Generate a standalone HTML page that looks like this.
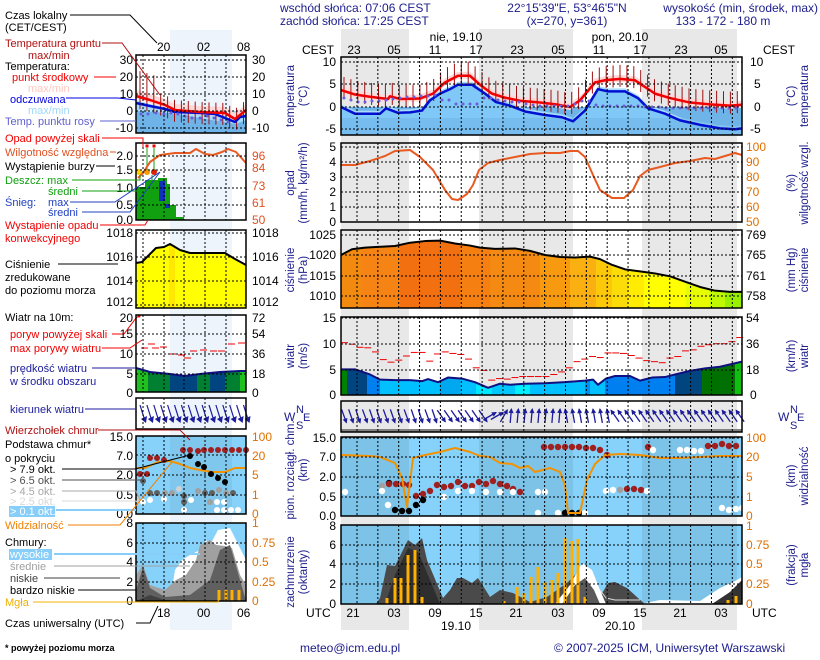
<!DOCTYPE html>
<html><head><meta charset="utf-8">
<style>
html,body{margin:0;padding:0;background:#fff;}
svg{display:block;font-family:"Liberation Sans",sans-serif;}
text{font-size:12px;}
.lg text{font-size:11px;}
.rl text{font-size:11.5px;}
.n{fill:#1c1c8c;}
.k{fill:#000;}
.o{fill:#e07000;}
</style></head>
<body>
<svg id="s" width="820" height="660" viewBox="0 0 820 660" xmlns="http://www.w3.org/2000/svg">
<rect width="820" height="660" fill="#fff"/>
<rect x="341" y="29" width="68" height="601" fill="#e8e8e8"/>
<rect x="479" y="29" width="94" height="601" fill="#e8e8e8"/>
<rect x="642" y="29" width="95" height="601" fill="#e8e8e8"/>
<rect x="170" y="30" width="62" height="600" fill="#eef4fc"/>
<g id="g"></g>

<text x="280" y="12" class="n">wschód słońca: 07:06 CEST</text>
<text x="280" y="25" class="n">zachód słońca: 17:25 CEST</text>
<text x="567" y="12" class="n" text-anchor="middle">22°15'39"E, 53°46'5"N</text>
<text x="567" y="25" class="n" text-anchor="middle">(x=270,  y=361)</text>
<text x="818" y="12" class="n" text-anchor="end">wysokość (min, środek, max)</text>
<text x="723" y="25" class="n" text-anchor="middle">133 - 172 - 180 m</text>

<text x="456" y="41" class="k" text-anchor="middle">nie, 19.10</text>
<text x="620" y="41" class="k" text-anchor="middle">pon, 20.10</text>
<text x="302" y="54" class="k">CEST</text>
<text x="763" y="54" class="k">CEST</text>
<g class="k" text-anchor="middle">
<text x="354" y="54">23</text><text x="394" y="54">05</text><text x="435" y="54">11</text><text x="476" y="54">17</text><text x="517" y="54">23</text><text x="558" y="54">05</text><text x="599" y="54">11</text><text x="640" y="54">17</text><text x="681" y="54">23</text><text x="721" y="54">05</text>
</g>
<text x="306" y="617" class="k">UTC</text>
<text x="752" y="617" class="k">UTC</text>
<g class="k" text-anchor="middle">
<text x="353" y="617">21</text><text x="394" y="617">03</text><text x="435" y="617">09</text><text x="476" y="617">15</text><text x="516" y="617">21</text><text x="558" y="617">03</text><text x="599" y="617">09</text><text x="640" y="617">15</text><text x="680" y="617">21</text><text x="721" y="617">03</text>
<text x="456" y="630">19.10</text><text x="620" y="630">20.10</text>
</g>

<g class="k" text-anchor="end">
<text x="336" y="66">10</text><text x="336" y="88">5</text><text x="336" y="111">0</text><text x="336" y="133">-5</text>
<text x="336" y="151">5</text><text x="336" y="166">4</text><text x="336" y="181">3</text><text x="336" y="196">2</text><text x="336" y="211">1</text><text x="336" y="226">0</text>
<text x="336" y="239">1025</text><text x="336" y="259">1020</text><text x="336" y="280">1015</text><text x="336" y="300">1010</text>
<text x="336" y="322">15</text><text x="336" y="348">10</text><text x="336" y="374">5</text><text x="336" y="399">0</text>
<text x="336" y="442">15.0</text><text x="336" y="461">7.0</text><text x="336" y="481">2.0</text><text x="336" y="501">0.5</text><text x="336" y="520">0.0</text>
<text x="336" y="530">8</text><text x="336" y="549">6</text><text x="336" y="568">4</text><text x="336" y="588">2</text><text x="336" y="608">0</text>
</g>
<g class="k">
<text x="750" y="66">10</text><text x="754" y="88">5</text><text x="754" y="111">0</text><text x="750" y="133">-5</text>
<text x="746" y="239">769</text><text x="746" y="259">765</text><text x="746" y="280">761</text><text x="746" y="300">758</text>
<text x="746" y="322">54</text><text x="746" y="348">36</text><text x="746" y="374">18</text><text x="750" y="399">0</text>
</g>
<g class="o">
<text x="746" y="151">100</text><text x="746" y="166">90</text><text x="746" y="181">80</text><text x="746" y="196">70</text><text x="746" y="211">60</text><text x="746" y="226">50</text>
<text x="746" y="442">100</text><text x="746" y="461">20</text><text x="746" y="481">5</text><text x="746" y="501">1</text><text x="746" y="520">0</text>
<text x="746" y="530">1</text><text x="746" y="549">0.75</text><text x="746" y="568">0.5</text><text x="746" y="588">0.25</text><text x="746" y="608">0</text>
</g>
<g class="n rl" text-anchor="middle">
<text transform="translate(294,96) rotate(-90)">temperatura</text>
<text transform="translate(307,96) rotate(-90)">(°C)</text>
<text transform="translate(294,183) rotate(-90)">opad</text>
<text transform="translate(307,183) rotate(-90)">(mm/h, kg/m²/h)</text>
<text transform="translate(294,270) rotate(-90)">ciśnienie</text>
<text transform="translate(307,270) rotate(-90)">(hPa)</text>
<text transform="translate(294,356) rotate(-90)">wiatr</text>
<text transform="translate(307,356) rotate(-90)">(m/s)</text>
<text transform="translate(294,470) rotate(-90)">pion. rozciągł. chm.</text>
<text transform="translate(307,470) rotate(-90)">(km)</text>
<text transform="translate(294,572) rotate(-90)">zachmurzenie</text>
<text transform="translate(307,572) rotate(-90)">(oktanty)</text>
<text transform="translate(795,96) rotate(-90)">(°C)</text>
<text transform="translate(808,96) rotate(-90)">temperatura</text>
<text transform="translate(795,183) rotate(-90)">(%)</text>
<text transform="translate(808,183) rotate(-90)">wilgotność wzgl.</text>
<text transform="translate(795,270) rotate(-90)">(mm Hg)</text>
<text transform="translate(808,270) rotate(-90)">ciśnienie</text>
<text transform="translate(795,356) rotate(-90)">(km/h)</text>
<text transform="translate(808,356) rotate(-90)">wiatr</text>
<text transform="translate(795,476) rotate(-90)">(km)</text>
<text transform="translate(808,476) rotate(-90)">widzialność</text>
<text transform="translate(795,565) rotate(-90)">(frakcja)</text>
<text transform="translate(808,565) rotate(-90)">mgła</text>
</g>
<g class="n">
<text x="284" y="421">W</text><text x="296" y="413" style="font-size:11px">N</text><text x="296" y="429" style="font-size:11px">S</text><text x="303" y="421" style="font-size:11px">E</text>
<text x="778" y="421">W</text><text x="790" y="413" style="font-size:11px">N</text><text x="790" y="429" style="font-size:11px">S</text><text x="797" y="421" style="font-size:11px">E</text>
</g>

<g class="k">
<text x="157" y="51">20</text><text x="197" y="51">02</text><text x="237" y="51">08</text>
<text x="157" y="617">18</text><text x="197" y="617">00</text><text x="237" y="617">06</text>
</g>
<g class="k" text-anchor="end">
<text x="133" y="64">30</text><text x="133" y="81">20</text><text x="133" y="98">10</text><text x="133" y="115">0</text><text x="133" y="132">-10</text>
<text x="133" y="160">2.0</text><text x="133" y="174">1.5</text><text x="133" y="192">1.0</text><text x="133" y="209">0.5</text><text x="133" y="224">0.0</text>
<text x="133" y="237">1018</text><text x="133" y="261">1016</text><text x="133" y="285">1014</text><text x="133" y="306">1012</text>
<text x="133" y="322">20</text><text x="133" y="338">15</text><text x="133" y="358">10</text><text x="133" y="378">5</text><text x="133" y="397">0</text>
<text x="133" y="441">15.0</text><text x="133" y="460">7.0</text><text x="133" y="479">2.0</text><text x="133" y="499">0.5</text><text x="133" y="518">0.0</text>
<text x="133" y="527">8</text><text x="133" y="547">6</text><text x="133" y="566">4</text><text x="133" y="586">2</text><text x="133" y="605">0</text>
</g>
<g class="k">
<text x="252" y="64">30</text><text x="252" y="81">20</text><text x="252" y="98">10</text><text x="252" y="115">0</text><text x="252" y="132">-10</text>
<text x="252" y="237">1018</text><text x="252" y="261">1016</text><text x="252" y="285">1014</text><text x="252" y="306">1012</text>
<text x="252" y="322">72</text><text x="252" y="338">54</text><text x="252" y="358">36</text><text x="252" y="378">18</text><text x="252" y="397">0</text>
</g>
<g fill="#e05020">
<text x="252" y="160">96</text><text x="252" y="172">84</text><text x="252" y="190">73</text><text x="252" y="207">61</text><text x="252" y="224">50</text>
</g>
<g class="o">
<text x="252" y="441">100</text><text x="252" y="460">20</text><text x="252" y="479">5</text><text x="252" y="499">1</text><text x="252" y="518">0</text>
<text x="252" y="527">1</text><text x="252" y="547">0.75</text><text x="252" y="566">0.5</text><text x="252" y="586">0.25</text><text x="252" y="605">0</text>
</g>

<g class="lg">
<text x="5" y="19" class="k">Czas lokalny</text>
<text x="5" y="31" class="k">(CET/CEST)</text>
<text x="5" y="47" fill="#b01010">Temperatura gruntu</text>
<text x="28" y="59" fill="#b01010">max/min</text>
<text x="5" y="70" class="k">Temperatura:</text>
<text x="12" y="81" fill="#f00000">punkt środkowy</text>
<text x="28" y="92" fill="#ffc8c0">max/min</text>
<text x="10" y="103" fill="#0000e0">odczuwana</text>
<text x="28" y="114" fill="#a0d8f8">max/min</text>
<text x="5" y="125" fill="#6060d0">Temp. punktu rosy</text>
<text x="5" y="142" fill="#f00000">Opad powyżej skali</text>
<text x="5" y="156" fill="#e05020">Wilgotność względna</text>
<text x="5" y="170" class="k">Wystąpienie burzy</text>
<text x="5" y="184" fill="#10a010">Deszcz: max</text>
<text x="48" y="195" fill="#10a010">średni</text>
<text x="5" y="206" fill="#2040c0">Śnieg:</text>
<text x="48" y="206" fill="#2040c0">max</text>
<text x="48" y="216" fill="#2040c0">średni</text>
<text x="5" y="229" fill="#f00000">Wystąpienie opadu</text>
<text x="5" y="242" fill="#f00000">konwekcyjnego</text>
<text x="5" y="268" class="k">Ciśnienie</text>
<text x="5" y="281" class="k">zredukowane</text>
<text x="5" y="294" class="k">do poziomu morza</text>
<text x="5" y="321" class="k">Wiatr na 10m:</text>
<text x="10" y="338" fill="#f00000">poryw powyżej skali</text>
<text x="10" y="352" fill="#f00000">max porywy wiatru</text>
<text x="10" y="372" fill="#1c1c9c">prędkość wiatru</text>
<text x="10" y="385" fill="#1c1c9c">w środku obszaru</text>
<text x="10" y="413" fill="#1c1c9c">kierunek wiatru</text>
<text x="5" y="434" fill="#b01010">Wierzchołek chmur</text>
<text x="5" y="448" class="k">Podstawa chmur*</text>
<text x="5" y="462" class="k">o pokryciu</text>
<text x="10" y="473" class="k">&gt; 7.9 okt.</text>
<text x="10" y="484" fill="#505050">&gt; 6.5 okt.</text>
<text x="10" y="495" fill="#a8a8a8">&gt; 4.5 okt.</text>
<text x="10" y="505" fill="#d8d8d8">&gt; 2.5 okt.</text>
<rect x="9" y="506" width="46" height="11" fill="#87cefa"/>
<text x="10" y="515" fill="#fff">&gt; 0.1 okt.</text>
<text x="5" y="529" fill="#f08000">Widzialność</text>
<text x="5" y="546" class="k">Chmury:</text>
<rect x="9" y="549" width="43" height="11" fill="#87cefa"/>
<text x="10" y="558" fill="#fff">wysokie</text>
<text x="10" y="570" fill="#a0a0a0">średnie</text>
<text x="10" y="582" fill="#404040">niskie</text>
<text x="10" y="594" class="k">bardzo niskie</text>
<text x="5" y="606" fill="#f0b000">Mgła</text>
<text x="5" y="627" class="k">Czas uniwersalny (UTC)</text>
</g>
<text x="5" y="651" font-weight="bold" style="font-size:9px">* powyżej poziomu morza</text>

<text x="300" y="652" class="n">meteo@icm.edu.pl</text>
<text x="554" y="652" class="n">© 2007-2025 ICM, Uniwersytet Warszawski</text>

<g fill="none" stroke-width="1">
<polyline points="70,15 130,15 157,43" stroke="#000"/>
<polyline points="102,43 122,43 160,95" stroke="#b01010"/>
<polyline points="94,77 116,77" stroke="#f00000"/>
<polyline points="66,98 118,98 136,100" stroke="#0000e0"/>
<polyline points="100,121 136,121" stroke="#6060d0"/>
<polyline points="102,138 143,138 143,147" stroke="#f00000"/>
<polyline points="110,152 116,152" stroke="#e05020"/>
<polyline points="96,166 115,166" stroke="#000"/>
<polyline points="72,180 140,180 140,175" stroke="#10a010"/>
<polyline points="82,191 152,191 152,175" stroke="#10a010"/>
<polyline points="70,202 115,202 160,172" stroke="#2040c0"/>
<polyline points="82,212 130,212 160,172" stroke="#2040c0"/>
<polyline points="100,225 145,225 148,220" stroke="#f00000"/>
<polyline points="58,264 118,264" stroke="#000"/>
<polyline points="112,334 118,334" stroke="#f00000"/>
<polyline points="102,348 130,348 142,340" stroke="#f00000"/>
<polyline points="92,368 136,368" stroke="#1c1c9c"/>
<polyline points="85,409 136,409" stroke="#1c1c9c"/>
<polyline points="98,430 180,430 190,440" stroke="#b01010"/>
<polyline points="62,469 135,469 190,455" stroke="#000"/>
<polyline points="62,480 143,480" stroke="#505050"/>
<polyline points="62,491 136,491 140,500" stroke="#a8a8a8"/>
<polyline points="62,501 136,501 140,505" stroke="#d8d8d8"/>
<polyline points="56,510 136,510" stroke="#87cefa" stroke-width="2"/>
<polyline points="68,525 120,525 172,462" stroke="#f08000"/>
<polyline points="54,554 200,554" stroke="#87cefa" stroke-width="2"/>
<polyline points="54,566 190,566" stroke="#a0a0a0"/>
<polyline points="44,578 120,578" stroke="#404040"/>
<polyline points="78,590 136,590" stroke="#000"/>
<polyline points="33,602 218,602 220,592" stroke="#f0b000"/>
<polyline points="136,623 150,623 158,606" stroke="#000"/>
</g>
</svg>
<script>
(function(){
var NS="http://www.w3.org/2000/svg",g=document.getElementById("g");
function el(t,a){var e=document.createElementNS(NS,t);for(var k in a)e.setAttribute(k,a[k]);g.appendChild(e);return e;}
function P(a){return a.map(function(p){return p[0]+","+p[1];}).join(" ");}
function poly(pts,fill){return el("polygon",{points:P(pts),fill:fill||"none"});}
function line(pts,stroke,w){return el("polyline",{points:P(pts),fill:"none",stroke:stroke,"stroke-width":w||1,"stroke-linejoin":"round"});}
function rect(x,y,w,h,f,o){var r=el("rect",{x:x,y:y,width:w,height:h,fill:f});if(o)r.setAttribute("opacity",o);return r;}
function circ(x,y,r,f){el("circle",{cx:x,cy:y,r:r,fill:f});}
function area(pts,base,fill){var a=[[pts[0][0],base]].concat(pts).concat([[pts[pts.length-1][0],base]]);poly(a,fill);}
function shift(pts,dy){return pts.map(function(p){return [p[0],p[1]+dy];});}
var X0=341,X1=742;
[[437,516],[525,604]].forEach(function(p){
 rect(X0,p[0],X1-X0,p[1]-p[0],"#87d2fa");
 [[341,68],[479,94],[642,95]].forEach(function(b){rect(b[0],p[0],b[1],p[1]-p[0],"#000",0.07);});
});
var T=function(v){return 107-v*4.46;};
var red=[[341,3.8],[355,2.8],[370,2.3],[388,1.8],[390,2.4],[400,1.8],[420,1.9],[433,3],[445,5.5],[458,7],[470,7],[480,5],[492,3],[505,2.1],[520,1.4],[540,1],[556,0.6],[570,0],[580,1.5],[595,5.5],[605,6],[620,6.3],[635,6],[645,4.5],[655,3],[670,2],[690,1],[710,0.6],[730,0.3],[742,0.5]].map(function(p){return [p[0],T(p[1])];});
var blue=[[341,0],[355,-1.5],[380,-1.5],[386,-0.3],[398,-1.3],[410,-1.2],[422,-0.8],[430,1.5],[440,3],[450,4],[458,5],[472,5],[485,3],[496,1.1],[510,0.3],[525,-1],[545,-1.8],[562,-2.3],[573,-3.2],[585,-0.8],[598,4],[608,3.5],[625,3.5],[638,2],[648,-0.3],[665,-1.5],[680,-3],[700,-4],[720,-4.8],[735,-5],[742,-4.8]].map(function(p){return [p[0],T(p[1])];});
rect(X0,107,X1-X0,28,"#6fb4e8");
area(shift(blue,-3),135,"#a8dcfa");
area(blue,135,"#80c8f8");
rect(X0,118,X1-X0,17,"#6fb4e8",0.6);
poly(shift(red,-4).concat(shift(red,3).reverse()),"#ffd8d8");
for(var x=344;x<740;x+=6.9){var i=0;while(i<red.length-1&&red[i+1][0]<x)i++;var a=red[i],b=red[Math.min(i+1,red.length-1)];var y=a[1]+(b[1]-a[1])*((x-a[0])/((b[0]-a[0])||1));el("line",{x1:x,y1:y-14,x2:x,y2:y+8,stroke:"#a01010","stroke-width":1});}
line(blue,"#0010d0",2.5);
line(red,"#f00000",2.5);
[[344,98],[351,100],[358,102],[365,102],[372,101],[379,101],[386,100],[393,99],[400,98],[407,97],[414,97],[421,96],[428,96],[435,95],[442,100],[449,100],[456,104],[463,104],[470,104],[477,104],[484,98],[491,98],[498,100],[505,101],[512,102],[519,102],[526,104],[533,105],[540,106],[547,106],[554,106],[561,106],[568,106],[575,104],[582,101],[589,101],[596,105],[603,106],[610,106],[617,106],[624,106],[631,106],[638,106],[645,107],[652,107],[659,107],[666,108],[673,108],[680,108],[687,108],[694,108],[701,108],[708,108],[715,108],[722,108],[729,108],[736,108]].forEach(function(p){circ(p[0],p[1],1.5,"#6a5fdc");});
var hum=[[341,165],[355,165],[370,161],[385,156],[395,151],[410,150],[420,157],[433,170],[445,190],[452,199],[458,200],[467,194],[473,185],[479,170],[488,163],[500,160],[515,157],[530,154],[545,153],[560,153],[570,151],[578,151],[585,157],[593,175],[600,190],[612,198],[624,198],[633,190],[640,176],[648,170],[660,167],[675,163],[690,161],[705,158],[715,159],[725,156],[735,153],[742,155]];
line(hum,"#e85a20",2);
var pr=[[341,1020],[352,1021.4],[365,1021.8],[380,1022],[395,1022.2],[410,1023],[425,1023.4],[440,1023.5],[455,1022.8],[470,1022.3],[480,1021.8],[495,1021.5],[515,1021.6],[530,1021],[545,1020],[560,1019.5],[575,1019.4],[590,1019.6],[600,1019],[612,1017.6],[625,1016.5],[640,1016],[655,1015.5],[670,1014.8],[685,1013.5],[700,1012.2],[715,1011.3],[730,1011],[742,1011]].map(function(p){return [p[0],255-(p[1]-1020)*4.1];});
var cols=[[341,"#f28a10"],[362,"#f58414"],[400,"#f27010"],[460,"#f57f10"],[490,"#f48a12"],[540,"#f89a10"],[570,"#fab010"],[596,"#fcc80a"],[612,"#fcdc08"],[628,"#ffec00"],[644,"#ffff00"],[686,"#e8fc00"],[710,"#c0f800"],[725,"#98f000"],[742,null]];
var cp=el("clipPath",{id:"pc"});var pp=document.createElementNS(NS,"polygon");pp.setAttribute("points",P([[341,308]].concat(pr).concat([[742,308]])));cp.appendChild(pp);
for(var i=0;i<cols.length-1;i++){var r=rect(cols[i][0],230,cols[i+1][0]-cols[i][0]+0.5,78,cols[i][1]);r.setAttribute("clip-path","url(#pc)");}
line(pr,"#000",2);
var W=function(v){return 395-v*5.13;};
var ws=[[341,5],[355,5],[370,4],[380,3],[395,2.9],[410,2.9],[422,2.7],[428,3.1],[438,2.5],[448,3.4],[462,3.2],[475,2.5],[488,1.4],[500,2.2],[510,2.0],[525,2.2],[545,2.3],[565,2.5],[585,2.8],[593,3],[598,2],[606,3.2],[615,3.7],[630,3.7],[640,2.8],[652,3.4],[665,3.5],[675,4],[690,4.7],[705,5.2],[720,5.5],[742,6.5]].map(function(p){return [p[0],W(p[1])];});
var wc=[[341,"#008000"],[347,"#004480"],[367,"#0080f0"],[380,"#00c0ff"],[440,"#00a8f0"],[460,"#00c0ff"],[476,"#00e8ff"],[492,"#00c8ff"],[515,"#00f0ff"],[530,"#00c0ff"],[585,"#0090f0"],[590,"#00c0ff"],[605,"#0080f0"],[675,"#004480"],[702,"#007000"],[735,"#10c010"],[742,null]];
var cp2=el("clipPath",{id:"wc"});var pp2=document.createElementNS(NS,"polygon");pp2.setAttribute("points",P([[341,395]].concat(ws).concat([[742,395]])));cp2.appendChild(pp2);
for(var i=0;i<wc.length-1;i++){var r=rect(wc[i][0],317,wc[i+1][0]-wc[i][0]+0.5,78,wc[i][1]);r.setAttribute("clip-path","url(#wc)");}
line(ws,"#101080",2);
var gust=[10.2,9.9,9.3,9.2,8.4,6.9,6.4,6.8,7.6,8.3,8.3,6.6,8,8.4,8.1,7.9,7,5.3,4.8,2.9,3.2,3.1,3.4,3.6,3.6,3.6,3.6,4,4.5,5.3,6.5,7,7.5,7.3,8.2,8.2,8.1,7.7,7.2,6.7,6.5,6.3,7.2,7.5,8.6,8.8,9.5,9.8,10,10,10.4,11.2];
for(var i=0;i<gust.length;i++){var x=341+i*7.75;el("line",{x1:x,y1:W(gust[i]),x2:x+7,y2:W(gust[i]),stroke:"#f00000","stroke-width":1});}
rect(X0,429,X1-X0,3,"#808080");
for(var i=0;i<58;i++){var x=344+i*6.95,a;
 if(x<440)a=160+(i%3); else if(x<488)a=145; else if(x<500)a=60; else if(x<510)a=30; else if(x<560)a=5; else if(x<610)a=-10; else a=-35;
 var rr=a*Math.PI/180,L=14,cx=x,cy=416,dx=Math.sin(rr)*L/2,dy=-Math.cos(rr)*L/2;
 el("line",{x1:cx-dx,y1:cy-dy,x2:cx+dx,y2:cy+dy,stroke:"#1c1c9c","stroke-width":1.3});
 var hx=cx+dx,hy=cy+dy,ux=dx/(L/2),uy=dy/(L/2);
 poly([[hx+ux*1,hy+uy*1],[hx-ux*4-uy*2.5,hy-uy*4+ux*2.5],[hx-ux*4+uy*2.5,hy-uy*4-ux*2.5]],"#1c1c9c");
}
var vis=[[341,455],[370,456],[380,457],[395,463],[402,478],[407,507],[413,458],[425,455],[440,452],[455,448],[470,452],[480,456],[490,457],[500,463],[512,464],[520,468],[528,466],[535,472],[550,468],[560,472],[565,485],[568,513],[575,513],[580,513],[587,480],[595,464],[605,455],[620,454],[640,455],[660,458],[680,458],[700,457],[720,456],[742,456]];
var dots=[[345,492,"#fff"],[382,486,"#a0a0a0"],[382,491,"#fff"],[389,483,"#000"],[389,484,"#a02020"],[396,484,"#a02020"],[403,484,"#a02020"],[409,485,"#a02020"],[388,505,"#fff"],[395,510,"#000"],[402,511,"#000"],[409,511,"#000"],[416,505,"#000"],[423,500,"#000"],[416,496,"#a02020"],[423,494,"#a02020"],[430,491,"#a02020"],[437,485,"#a02020"],[444,487,"#a02020"],[451,486,"#a02020"],[458,482,"#a02020"],[465,486,"#a02020"],[472,486,"#a02020"],[479,482,"#a02020"],[486,484,"#a02020"],[493,481,"#a02020"],[500,484,"#a02020"],[507,486,"#a02020"],[513,489,"#a02020"],[520,492,"#a02020"],[444,497,"#fff"],[458,491,"#fff"],[472,491,"#fff"],[486,492,"#fff"],[500,492,"#fff"],[513,492,"#fff"],[538,492,"#fff"],[545,492,"#fff"],[538,513,"#fff"],[558,513,"#fff"],[565,513,"#000"],[572,513,"#000"],[579,513,"#000"],[585,513,"#fff"],[544,447,"#a02020"],[551,447,"#a02020"],[558,447,"#a02020"],[565,447,"#a02020"],[572,447,"#a02020"],[579,447,"#a02020"],[586,448,"#a02020"],[593,448,"#a02020"],[600,450,"#a02020"],[607,455,"#a02020"],[606,491,"#fff"],[613,490,"#fff"],[620,490,"#a0a0a0"],[627,489,"#a02020"],[634,489,"#a02020"],[641,490,"#a02020"],[647,491,"#fff"],[648,447,"#a02020"],[653,450,"#fff"],[680,450,"#fff"],[687,450,"#fff"],[694,451,"#fff"],[701,451,"#fff"],[708,446,"#a02020"],[715,446,"#a02020"],[722,444,"#a02020"],[729,446,"#a02020"],[736,446,"#a02020"],[722,508,"#fff"],[729,510,"#fff"],[736,509,"#fff"],[742,508,"#fff"]];
dots.forEach(function(d){circ(d[0],d[1],3.2,d[2]);});
line(vis,"#f39200",2);
// cloud cover
poly([[341,604],[376,604],[380,598],[387,565],[395,566],[408,540],[415,545],[422,538],[427,560],[443,598],[450,590],[457,578],[463,578],[472,583],[478,578],[490,597],[500,590],[513,593],[530,602],[547,597],[567,583],[580,570],[592,572],[600,597],[608,583],[615,582],[627,588],[638,598],[645,604]],"#4a4a4a");
poly([[385,604],[395,575],[408,548],[418,552],[428,575],[440,604]],"#2e2e2e");
poly([[555,604],[570,585],[582,563],[592,570],[600,590],[606,604]],"#fff");
poly([[562,604],[575,585],[585,578],[594,590],[600,604]],"#5a5a5a");
line([[600,590],[606,598],[615,600],[640,600]],"#ddd",1);
poly([[640,604],[660,600],[700,601],[720,588],[735,581],[742,577],[742,604]],"#fff");
poly([[712,604],[730,592],[742,580],[742,604]],"#333");
[[387,598],[395,578],[401,578],[408,555],[415,550],[422,597],[504,601],[517,587],[524,593],[531,577],[538,567],[545,582],[552,580],[558,573],[565,538],[572,541],[578,539],[585,597],[728,600],[736,596]].forEach(function(b){rect(b[0]-1.5,b[1],3,604-b[1],"#ffb000");});
// ===== LEFT
var LX0=136,LX1=246;
rect(LX0,111,110,22,"#80c8f8");
poly([[136,100],[150,104],[170,108],[200,110],[246,112],[246,133],[136,133]],"#a8dcfa");
poly([[136,111],[170,113],[200,118],[236,124],[246,120],[246,133],[136,133]],"#6fb4e8");
var lr=[[136,96],[150,100],[165,105],[175,110],[200,112],[225,113],[235,119],[240,115],[246,110]];
poly(shift(lr,-6).concat(shift(lr,3).reverse()),"#ffd8d8");
for(var x=140;x<246;x+=6.9){var i=0;while(i<lr.length-1&&lr[i+1][0]<x)i++;var a=lr[i],b=lr[Math.min(i+1,lr.length-1)];var y=a[1]+(b[1]-a[1])*((x-a[0])/((b[0]-a[0])||1));el("line",{x1:x,y1:y-(x<160?26:10),x2:x,y2:y+12,stroke:"#a01010"});}
line([[136,103],[150,106],[165,109],[175,112],[200,113],[215,114],[225,118],[235,122],[240,117],[246,116]],"#0010d0",2.5);
line(lr,"#f00000",2.5);
[[141,114],[148,114],[156,113],[164,114],[171,113],[178,114],[185,116],[192,118],[200,118],[207,116],[214,118],[221,120],[228,122]].forEach(function(p){circ(p[0],p[1],1.5,"#6a5fdc");});
rect(136,187,27,33,"#10a010");rect(145,180,20,40,"#10a010");rect(158,178,9,42,"#10a010");rect(163,184,7,36,"#10a010");rect(170,205,6,15,"#10a010");rect(176,217,8,3,"#10a010");
rect(159,181,6,20,"#1030c0");rect(165,204,5,4,"#1030c0");
[[139,172,"#ffd000"],[147,172,"#f0a000"],[154,172,"#e02000"]].forEach(function(d){circ(d[0],d[1],3,d[2]);});
[[147,146],[154,146]].forEach(function(d){rect(d[0]-1.5,d[1]-1.5,3,3,"#f00000");});
line([[147,148],[147,170]],"#10a010",1);line([[154,148],[154,170]],"#10a010",1);
line([[138,178],[143,173],[150,162],[160,155],[175,153],[190,153],[196,149],[205,154],[213,155],[222,152],[228,149],[236,152],[246,163]],"#e85a20",2);
var lp=[[136,263],[142,262],[148,256],[156,248],[164,247],[170,244],[180,250],[190,253],[225,253],[235,259],[246,265]];
area(lp,308,"#ffff00");rect(169,245,6,63,"#ffd000",0.5);
line(lp,"#000",2);
var lw=[[136,368],[150,372],[170,374],[185,376],[200,374],[220,372],[240,371],[246,371]];
var lwc=[[136,"#20c020"],[148,"#008030"],[170,"#004480"],[197,"#008030"],[210,"#004480"],[225,"#008030"],[240,"#20c020"],[246,null]];
var cp3=el("clipPath",{id:"lwc"});var pp3=document.createElementNS(NS,"polygon");pp3.setAttribute("points",P([[136,392]].concat(lw).concat([[246,392]])));cp3.appendChild(pp3);
for(var i=0;i<lwc.length-1;i++){var r=rect(lwc[i][0],315,lwc[i+1][0]-lwc[i][0]+0.5,77,lwc[i][1]);r.setAttribute("clip-path","url(#lwc)");}
line(lw,"#101080",2);
line([[118,334],[124,334],[136,318],[139,316]],"#f00000",1);circ(139,316,1.5,"#f00000");
[[141,348],[148,344],[152,348],[160,347],[170,354],[178,355],[184,358],[190,351],[200,350],[210,351],[218,351],[228,344],[238,343]].forEach(function(p){el("line",{x1:p[0],y1:p[1],x2:p[0]+7,y2:p[1],stroke:"#f00000"});});
for(var x=140;x<248;x+=6.9){el("line",{x1:x,y1:405,x2:x+5,y2:421,stroke:"#1c1c9c","stroke-width":1.2});poly([[x+6,423],[x+1,419],[x+7,416]],"#1c1c9c");}
rect(136,436,110,78,"#87d2fa");rect(170,436,62,78,"#000",0.05);
line([[136,468],[145,468],[158,462],[170,461],[180,464],[190,468],[200,470],[212,472],[225,472],[235,468],[246,468]],"#f39200",2);
[[140,474,"#a02020"],[147,474,"#a02020"],[150,458,"#a02020"],[157,458,"#a02020"],[164,460,"#a02020"],[183,450,"#a02020"],[190,450,"#a02020"],[198,451,"#a02020"],[204,450,"#a02020"],[211,450,"#a02020"],[218,450,"#a02020"],[225,450,"#a02020"],[232,450,"#a02020"],[239,450,"#a02020"],[246,450,"#a02020"],[190,456,"#000"],[198,464,"#000"],[204,467,"#000"],[211,474,"#000"],[218,478,"#000"],[225,482,"#000"],[143,481,"#606060"],[150,493,"#606060"],[157,493,"#606060"],[165,493,"#a0a0a0"],[172,493,"#a0a0a0"],[179,489,"#d0d0d0"],[184,496,"#606060"],[184,502,"#606060"],[184,510,"#fff"],[191,500,"#fff"],[198,491,"#a0a0a0"],[205,493,"#606060"],[212,493,"#606060"],[219,490,"#a0a0a0"],[226,493,"#a0a0a0"],[233,493,"#606060"],[210,502,"#a0a0a0"],[217,502,"#fff"],[224,502,"#fff"],[138,500,"#d0d0d0"],[143,502,"#fff"],[150,500,"#fff"],[164,499,"#fff"],[217,510,"#fff"],[224,510,"#fff"],[231,510,"#fff"],[238,510,"#fff"]].forEach(function(d){circ(d[0],d[1],3,d[2]);});
rect(136,523,110,78,"#87d2fa");
poly([[170,601],[175,570],[182,560],[190,555],[200,550],[206,540],[210,545],[218,530],[230,528],[236,540],[246,560],[246,601]],"#fff");
poly([[136,601],[136,575],[143,565],[150,585],[165,590],[176,580],[186,575],[196,560],[200,545],[210,540],[216,545],[225,546],[232,548],[240,575],[246,585],[246,601]],"#a0a0a0");
poly([[136,601],[136,590],[143,567],[150,588],[165,597],[190,595],[210,580],[220,550],[230,545],[240,580],[246,601]],"#606060");
poly([[136,601],[150,595],[165,600],[200,601]],"#404040");
[[219,590],[226,590],[232,590],[239,590]].forEach(function(b){rect(b[0]-1.5,b[1],3,601-b[1],"#ffb000");});
function grid(x0,x1,t,b,vx,hy){
 vx.forEach(function(x){el("line",{x1:x,y1:t,x2:x,y2:b,stroke:"#000","stroke-dasharray":"2,2","stroke-width":1});});
 hy.forEach(function(y){el("line",{x1:x0,y1:y,x2:x1,y2:y,stroke:"#000","stroke-dasharray":"2,2","stroke-width":1});});
 el("rect",{x:x0,y:t,width:x1-x0,height:b-t,fill:"none",stroke:"#000","stroke-width":1.5});
}
var mv=[];for(var k=0;k<19;k++)mv.push(357+k*20.85);
[[57,135,[62,84,107,129]],[143,222,[147,162,177,192,207]],[230,308,[235,255,276,296]],[317,395,[318,344,370]],[401,432,[]],[437,516,[438,457,477,497]],[525,604,[545,564,584]]].forEach(function(p){grid(X0,X1,p[0],p[1],mv,p[2]);});
var lv=[143,164,184,205,226];
[[55,133,[60,77,94,111,128]],[143,220,[156,170,188,205]],[230,308,[233,257,281,305]],[315,392,[334,354,374]],[398,429,[]],[436,514,[455,475,495]],[523,601,[543,562,582]]].forEach(function(p){grid(LX0,LX1,p[0],p[1],lv,p[2]);});
})();
</script>
</body></html>
